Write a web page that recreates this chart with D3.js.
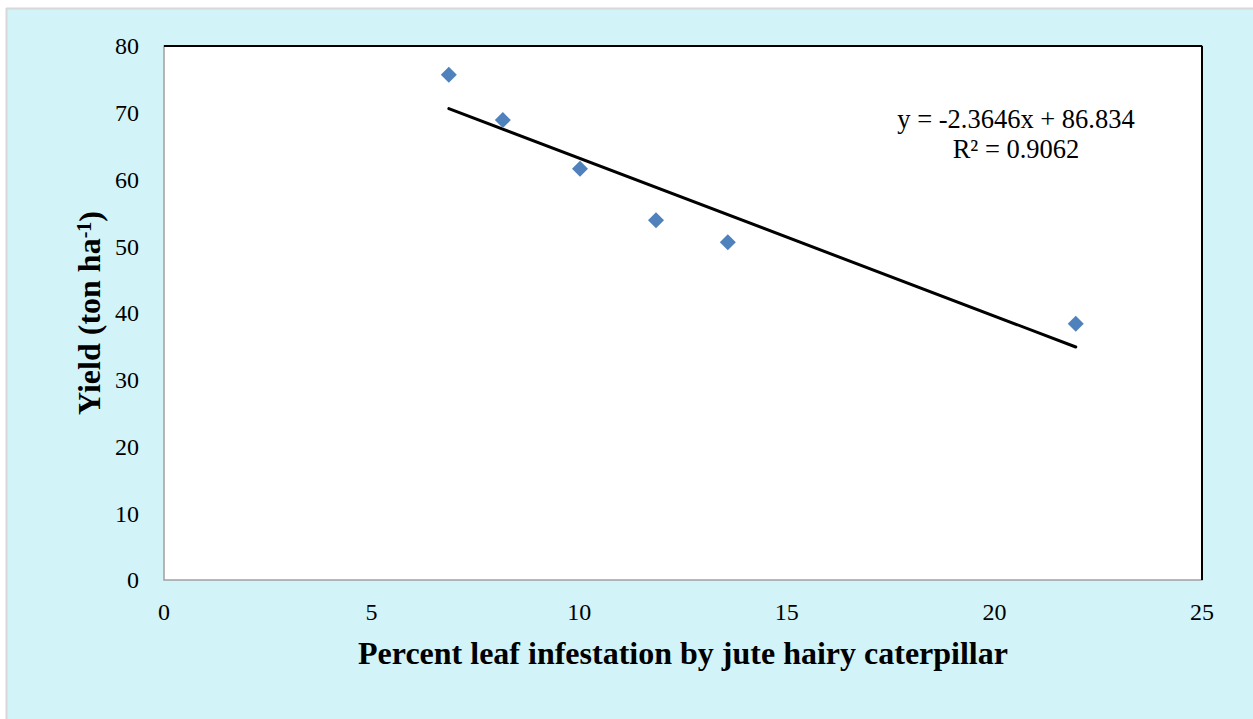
<!doctype html>
<html>
<head>
<script src="https://d3js.org/d3.v7.min.js"></script>
<style>
  body { margin: 0; background: #fff; }
  text { font-family: "Liberation Serif", "Times New Roman", serif; fill: #000; }
</style>
</head>
<body>
<svg width="1253" height="719"></svg>
<script>
// data
var infestation = [6.86, 8.16, 10.02, 11.85, 13.58, 21.96];
var yieldVals = [75.7, 68.9, 61.6, 53.9, 50.6, 38.4];
var xTicks = [0, 5, 10, 15, 20, 25];
var yTicks = [0, 10, 20, 30, 40, 50, 60, 70, 80];
var slope = -2.3646, intercept = 86.834, r2 = "0.9062";

var svg = d3.select("svg");

// outer chart background
svg.append("rect").attr("x", 6).attr("y", 8).attr("width", 1253).attr("height", 719)
   .attr("fill", "#d2f4f8");
svg.append("line").attr("x1", 6).attr("x2", 1253).attr("y1", 8.5).attr("y2", 8.5)
   .attr("stroke", "#d8d8d8").attr("stroke-width", 2);
svg.append("line").attr("x1", 6.5).attr("x2", 6.5).attr("y1", 8).attr("y2", 719)
   .attr("stroke", "#d8d8d8").attr("stroke-width", 2);

var pLeft = 164, pTop = 46, pRight = 1202, pBottom = 580;
var x = d3.scaleLinear().domain([0, 25]).range([pLeft, pRight]);
var y = d3.scaleLinear().domain([0, 80]).range([pBottom, pTop]);

// plot area
svg.append("rect").attr("x", pLeft).attr("y", pTop)
   .attr("width", pRight - pLeft).attr("height", pBottom - pTop)
   .attr("fill", "#fff").attr("stroke", "#a0a0a0").attr("stroke-width", 1.5);
svg.append("line").attr("x1", pLeft).attr("x2", pRight).attr("y1", pTop).attr("y2", pTop)
   .attr("stroke", "#000").attr("stroke-width", 2);
svg.append("line").attr("x1", pRight).attr("x2", pRight).attr("y1", pTop).attr("y2", pBottom)
   .attr("stroke", "#000").attr("stroke-width", 2);

// tick labels
svg.selectAll(".ytick").data(yTicks).enter().append("text")
   .attr("x", 139).attr("y", function(d) { return y(d); })
   .attr("dy", "0.35em").attr("text-anchor", "end")
   .style("font-size", "24px").text(function(d) { return d; });
svg.selectAll(".xtick").data(xTicks).enter().append("text")
   .attr("x", function(d) { return x(d); }).attr("y", 620)
   .attr("text-anchor", "middle")
   .style("font-size", "24px").text(function(d) { return d; });

// axis titles
svg.append("text").attr("x", 683).attr("y", 664).attr("text-anchor", "middle")
   .style("font-size", "32px").style("font-weight", "bold")
   .text("Percent leaf infestation by jute hairy caterpillar");
var yt = svg.append("text").attr("transform", "translate(100,313) rotate(-90)")
   .attr("text-anchor", "middle")
   .style("font-size", "32px").style("font-weight", "bold");
yt.append("tspan").text("Yield (ton ha");
yt.append("tspan").attr("dy", "-0.45em").style("font-size", "20px").text("-1");
yt.append("tspan").attr("dy", "0.3em").text(")");

// trend line
var xmin = d3.min(infestation), xmax = d3.max(infestation);
svg.append("line")
   .attr("x1", x(xmin)).attr("y1", y(slope * xmin + intercept))
   .attr("x2", x(xmax)).attr("y2", y(slope * xmax + intercept))
   .attr("stroke", "#000").attr("stroke-width", 3).attr("stroke-linecap", "round");

// points
svg.selectAll(".pt").data(infestation).enter().append("path")
   .attr("d", "M0,-8L8,0L0,8L-8,0Z")
   .attr("transform", function(d, i) { return "translate(" + x(d) + "," + y(yieldVals[i]) + ")"; })
   .attr("fill", "#4f81bd");

// equation
svg.append("text").attr("x", 1016).attr("y", 128).attr("text-anchor", "middle")
   .style("font-size", "26.5px")
   .text("y = " + slope + "x + " + intercept);
svg.append("text").attr("x", 1016).attr("y", 158).attr("text-anchor", "middle")
   .style("font-size", "26.5px")
   .text("R² = " + r2);
</script>
</body>
</html>
